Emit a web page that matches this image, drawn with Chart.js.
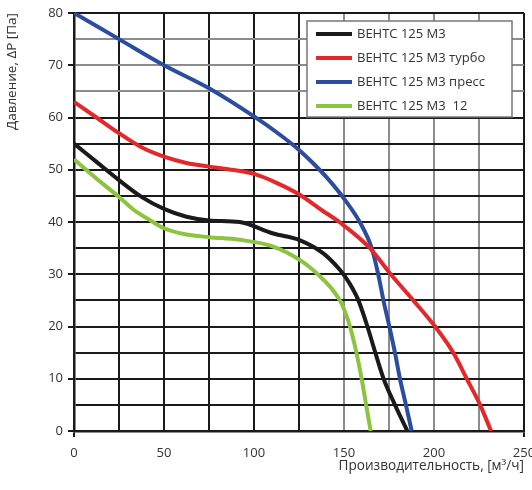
<!DOCTYPE html>
<html lang="ru">
  <head>
    <meta charset="UTF-8" />
    <title>ВЕНТС 125 М3</title>
    <script src="https://cdn.jsdelivr.net/npm/chart.js"></script>
    <style>
      body { margin: 0; background: #fff; }
    </style>
  </head>
  <body>
    <canvas id="fanChart" width="532" height="490"></canvas>

    <script>
      // tick labels shown on the axes
      let xTickLabels = [0, 50, 100, 150, 200, 250];
      let yTickLabels = [0, 10, 20, 30, 40, 50, 60, 70, 80];

      let seriesNames = ['ВЕНТС 125 М3', 'ВЕНТС 125 М3 турбо', 'ВЕНТС 125 М3 пресс', 'ВЕНТС 125 М3  12'];

      // flow [m3/h] and pressure [Pa]
      let m3Flow = [0, 12.5, 25, 37.5, 50, 62.5, 75, 92, 110.7, 125.6, 138.5, 147.8, 153, 158, 163, 167.4, 172, 178.3, 185.2];
      let m3Pressure = [55, 51.5, 48, 44.8, 42.5, 41, 40.3, 40, 37.8, 36.5, 34, 30.8, 28.3, 25, 20, 15, 10, 5, 0];

      let turboFlow = [0, 12.5, 25, 37.5, 50, 62.5, 75, 87.5, 100, 112.5, 125, 137.5, 147.8, 164.4, 175.5, 188.5, 200.6, 210.7, 218.2, 225.6, 231.7];
      let turboPressure = [63, 60, 57, 54.3, 52.5, 51.3, 50.6, 50, 49.2, 47.5, 45.3, 42.3, 39.9, 35, 30.2, 25, 20, 15, 10, 5, 0];

      let pressFlow = [0, 25, 50, 75, 100, 114.4, 125, 133, 141, 150.6, 158.9, 165.4, 169, 171.9, 175.2, 178.3, 181.1, 184.4, 187.6];
      let pressPressure = [80, 75, 70, 65.6, 60.2, 56.7, 53.8, 51.2, 48.3, 44.2, 39.9, 35, 30, 25, 20, 15, 10, 5, 0];

      let m312Flow = [0, 12.5, 25, 33.3, 42, 50, 62.5, 75, 92, 110.7, 125.6, 134.8, 143, 148.5, 153.3, 156.9, 159.8, 162.3, 164.8];
      let m312Pressure = [52, 48.3, 44.8, 42.3, 40.4, 38.8, 37.6, 37.1, 36.6, 35.3, 32.7, 30.2, 27.3, 24.5, 20, 15, 10, 5, 0];

      let colors = ['#1a1a1a', '#e3282c', '#2c4d9f', '#8cc43f'];

      function toPoints(xs, ys) {
        return xs.map((x, i) => ({ x: x, y: ys[i] }));
      }

      let gridBlack = '#1a1a1a';
      let gridGray = '#8c8c8c';

      // legend box inside the plot, top right
      const boxLegend = {
        id: 'boxLegend',
        afterDraw(chart) {
          const ctx = chart.ctx;
          const x0 = 307, y0 = 21, w = 205, h = 96;
          ctx.save();
          ctx.fillStyle = '#fff';
          ctx.fillRect(x0, y0, w, h);
          ctx.strokeStyle = '#777';
          ctx.lineWidth = 1.5;
          ctx.strokeRect(x0, y0, w, h);
          ctx.font = '13px "Open Sans"';
          ctx.textBaseline = 'middle';
          chart.data.datasets.forEach((ds, i) => {
            const y = y0 + 13 + i * 24;
            ctx.strokeStyle = ds.borderColor;
            ctx.lineWidth = 4;
            ctx.beginPath();
            ctx.moveTo(x0 + 9, y);
            ctx.lineTo(x0 + 45, y);
            ctx.stroke();
            ctx.fillStyle = '#333';
            ctx.fillText(ds.label, x0 + 50, y);
          });
          ctx.restore();
        },
      };

      let datasets = [
        [m3Flow, m3Pressure],
        [turboFlow, turboPressure],
        [pressFlow, pressPressure],
        [m312Flow, m312Pressure],
      ].map((s, i) => ({
        label: seriesNames[i],
        data: toPoints(s[0], s[1]),
        borderColor: colors[i],
        borderWidth: 4,
        pointRadius: 0,
        fill: false,
        cubicInterpolationMode: 'monotone',
      }));

      var fanChart = new Chart(document.getElementById('fanChart'), {
        type: 'line',
        data: { datasets },
        plugins: [boxLegend],
        options: {
          responsive: false,
          animation: false,
          layout: { padding: { top: 13, right: 8, left: 0, bottom: 12 } },
          plugins: { legend: { display: false }, tooltip: { enabled: false } },
          scales: {
            x: {
              type: 'linear',
              min: 0,
              max: 250,
              afterFit(scale) {
                scale.height = 47;
                scale.paddingLeft = 0;
                scale.paddingRight = 0;
              },
              ticks: {
                stepSize: 25,
                padding: 8,
                color: '#333',
                font: { family: 'Open Sans', size: 13 },
                callback: (v) => (xTickLabels.includes(v) ? v : ''),
              },
              grid: {
                lineWidth: 2,
                tickLength: 6,
                color: (c) => (c.tick && c.tick.value > 125 && c.tick.value < 250 ? gridGray : gridBlack),
                tickColor: (c) => (c.tick && (c.tick.value === 0 || c.tick.value === 250) ? gridBlack : 'rgba(0,0,0,0)'),
              },
              border: { color: gridBlack, width: 2.5 },
              title: {
                display: true,
                align: 'end',
                text: 'Производительность, [м³/ч]',
                color: '#333',
                font: { family: 'Open Sans', size: 13.6 },
              },
            },
            y: {
              min: 0,
              max: 80,
              afterFit(scale) {
                scale.width = 74;
                scale.paddingTop = 0;
                scale.paddingBottom = 0;
              },
              ticks: {
                stepSize: 5,
                padding: 5,
                color: '#333',
                font: { family: 'Open Sans', size: 13 },
                callback: (v) => (yTickLabels.includes(v) ? v : ''),
              },
              grid: {
                lineWidth: 2,
                tickLength: 6,
                color: (c) => (c.tick && c.tick.value >= 65 && c.tick.value < 80 ? gridGray : gridBlack),
                tickColor: (c) => (c.tick && yTickLabels.includes(c.tick.value) ? gridBlack : 'rgba(0,0,0,0)'),
              },
              border: { color: gridBlack, width: 2.5 },
              title: {
                display: true,
                align: 'end',
                text: 'Давление, ΔP [Па]',
                color: '#333',
                font: { family: 'Open Sans', size: 13.5 },
              },
            },
          },
        },
      });
    </script>
  </body>
</html>
